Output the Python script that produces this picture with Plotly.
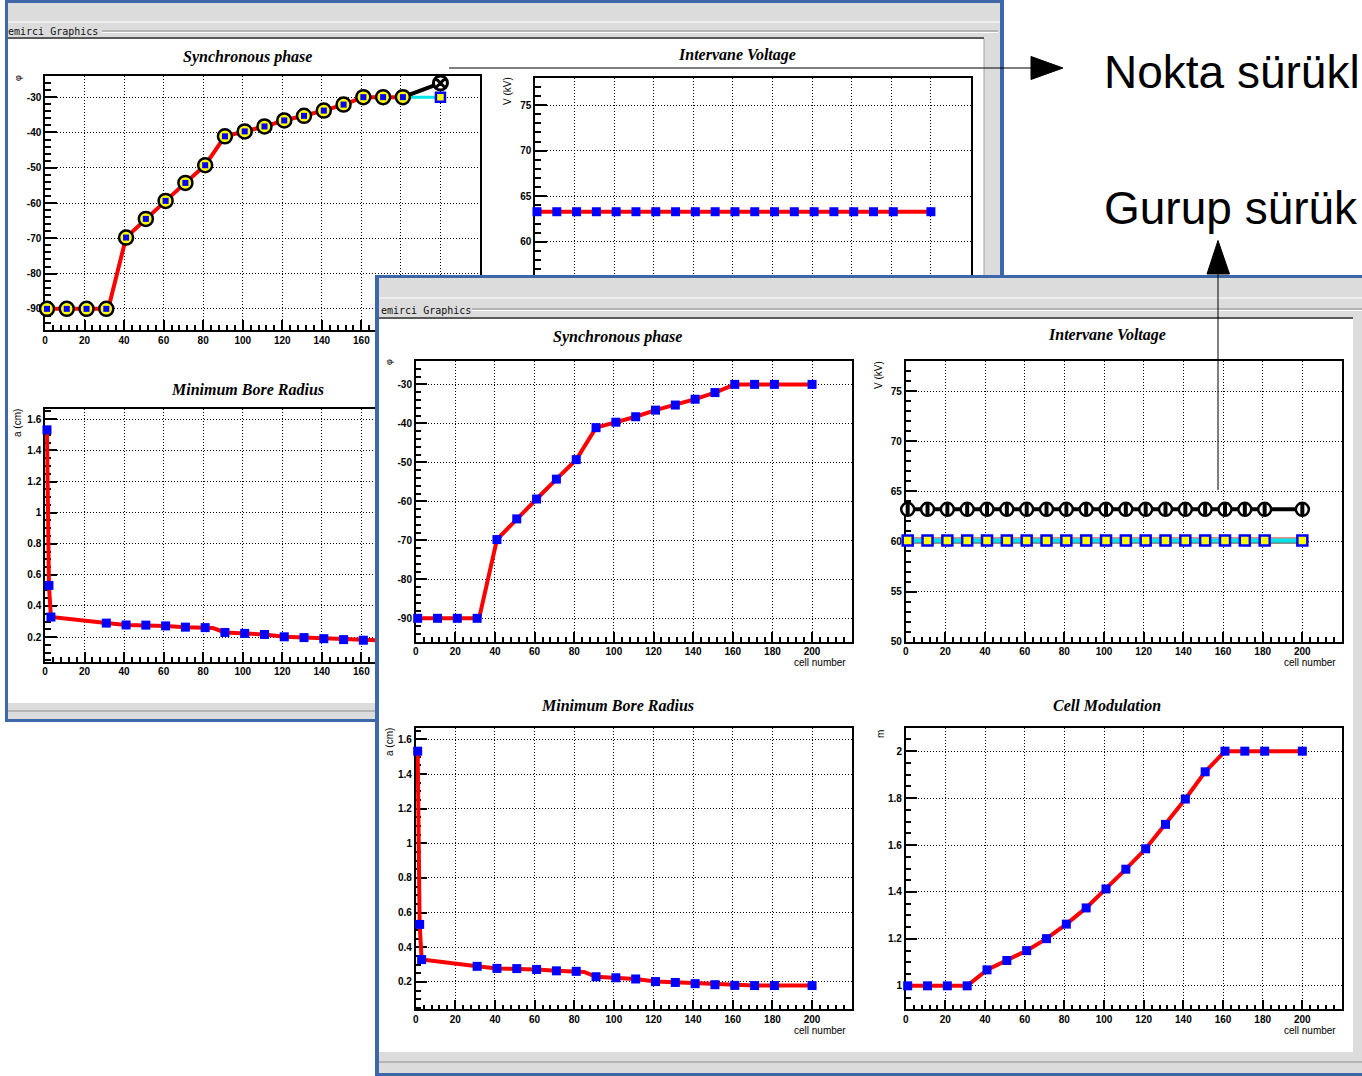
import plotly.graph_objects as go

W, H = 1362, 1076

# ---------------- data ----------------
cells = [1, 11, 21, 31, 41, 51, 61, 71, 81, 91, 101, 111, 121, 131, 141, 151, 161, 171, 181, 200]
phase = [-90, -90, -90, -90, -69.8, -64.5, -59.4, -54.3, -49.3, -41.1, -39.7, -38.3, -36.6, -35.3, -33.8, -32.1, -30, -30, -30, -30]
phase_curve_x = [1, 32, 41, 51, 61, 71, 81, 91, 101, 111, 121, 131, 141, 151, 161, 171, 181, 200]
phase_curve_y = [-90, -90, -69.8, -64.5, -59.4, -54.3, -49.3, -41.1, -39.7, -38.3, -36.6, -35.3, -33.8, -32.1, -30, -30, -30, -30]
# back window: last point being dragged
phase_drag_x = [181, 200]
phase_drag_old = [-30, -30]
phase_drag_new = [-30, -26]

bore_cells = [1, 2, 3, 31, 41, 51, 61, 71, 81, 91, 101, 111, 121, 131, 141, 151, 161, 171, 181, 200]
bore = [1.532, 0.532, 0.329, 0.290, 0.278, 0.277, 0.272, 0.264, 0.261, 0.230, 0.224, 0.217, 0.202, 0.197,
        0.190, 0.184, 0.180, 0.179, 0.179, 0.179]
bore_curve_x = [1, 2, 3, 10, 20, 31, 41, 51, 61, 71, 81, 85, 91, 101, 111, 121, 131, 141, 151, 161, 171, 181, 200]
bore_curve_y = [1.532, 0.532, 0.329, 0.318, 0.303, 0.290, 0.278, 0.277, 0.272, 0.264, 0.261, 0.258, 0.230, 0.224,
                0.217, 0.202, 0.197, 0.190, 0.184, 0.180, 0.179, 0.179, 0.179]

volt_before = [63.3, 63.3, 63.3, 63.3, 63.3, 63.3, 63.3, 63.3, 63.3, 63.3,
               63.3, 63.3, 63.3, 63.3, 63.3, 63.3, 63.3, 63.3, 63.3, 63.3]
volt_ghost = [63.2, 63.2, 63.2, 63.2, 63.2, 63.2, 63.2, 63.2, 63.2, 63.2,
              63.2, 63.2, 63.2, 63.2, 63.2, 63.2, 63.2, 63.2, 63.2, 63.2]
volt_after = [60.1, 60.1, 60.1, 60.1, 60.1, 60.1, 60.1, 60.1, 60.1, 60.1,
              60.1, 60.1, 60.1, 60.1, 60.1, 60.1, 60.1, 60.1, 60.1, 60.1]
volt_after_upper = [60.35, 60.35, 60.35, 60.35, 60.35, 60.35, 60.35, 60.35, 60.35, 60.35,
                    60.35, 60.35, 60.35, 60.35, 60.35, 60.35, 60.35, 60.35, 60.35, 60.35]
volt_after_lower = [59.85, 59.85, 59.85, 59.85, 59.85, 59.85, 59.85, 59.85, 59.85, 59.85,
                    59.85, 59.85, 59.85, 59.85, 59.85, 59.85, 59.85, 59.85, 59.85, 59.85]

modulation = [1.0, 1.0, 1.0, 1.0, 1.068, 1.108, 1.150, 1.201, 1.263, 1.332, 1.413, 1.497, 1.584, 1.688,
              1.796, 1.912, 2.0, 2.0, 2.0, 2.0]

x_ticks = [0, 20, 40, 60, 80, 100, 120, 140, 160, 180, 200]
x_ticklabels = ["0", "20", "40", "60", "80", "100", "120", "140", "160", "180", "200"]
phase_ticks = [-90, -80, -70, -60, -50, -40, -30]
phase_ticklabels = ["-90", "-80", "-70", "-60", "-50", "-40", "-30"]
volt_ticks = [50, 55, 60, 65, 70, 75]
volt_ticklabels = ["50", "55", "60", "65", "70", "75"]
bore_ticks = [0.2, 0.4, 0.6, 0.8, 1.0, 1.2, 1.4, 1.6]
bore_ticklabels = ["0.2", "0.4", "0.6", "0.8", "1", "1.2", "1.4", "1.6"]
mod_ticks = [1.0, 1.2, 1.4, 1.6, 1.8, 2.0]
mod_ticklabels = ["1", "1.2", "1.4", "1.6", "1.8", "2"]

# ---------------- helpers ----------------
def PX(p):
    return p / W


def PY(p):
    return 1 - p / H


FRONT_X0, FRONT_Y0 = 375, 275


def CX(p):
    return (p - FRONT_X0) / (W - FRONT_X0)


def CY(p):
    return (H - p) / (H - FRONT_Y0)


SANS = "Liberation Sans, Arial"
TICKFONT = dict(family=SANS, size=10, color="black", weight="bold")
axis_common = dict(showline=True, linecolor="black", linewidth=1.5, mirror=True,
                   ticks="inside", tickcolor="black", tickwidth=2,
                   showgrid=True, gridcolor="black", gridwidth=1, griddash="1px,2px",
                   zeroline=False, tickfont=TICKFONT, automargin=False, fixedrange=True,
                   layer="below traces")


def xax(x0, x1, anchor, labels=True):
    return dict(axis_common, domain=[PX(x0), PX(x1)], range=[0, 220], anchor=anchor,
                tickmode="array", tickvals=x_ticks, ticktext=x_ticklabels, ticklen=10,
                showticklabels=labels,
                minor=dict(dtick=4, tick0=0, ticks="inside", ticklen=5, tickwidth=2,
                           tickcolor="black", showgrid=False))


def yax(y0, y1, anchor, rng, tv, tt, mdt, mt0):
    return dict(axis_common, domain=[PY(y1), PY(y0)], range=rng, anchor=anchor,
                tickmode="array", tickvals=tv, ticktext=tt, ticklen=12,
                minor=dict(dtick=mdt, tick0=mt0, ticks="inside", ticklen=6, tickwidth=2,
                           tickcolor="black", showgrid=False))


RED = "#ff0000"
BLUE_M = "#0000ff"
fig = go.Figure()


def line_tr(x, y, ax, color=RED, width=4):
    fig.add_trace(go.Scatter(x=x, y=y, mode="lines", xaxis="x" + ax, yaxis="y" + ax,
                             line=dict(color=color, width=width), hoverinfo="skip", showlegend=False))


def mark_tr(x, y, ax, symbol="square", size=9, color=BLUE_M, lcolor=None, lwidth=0):
    fig.add_trace(go.Scatter(x=x, y=y, mode="markers", xaxis="x" + ax, yaxis="y" + ax, cliponaxis=False,
                             marker=dict(symbol=symbol, size=size, color=color,
                                         line=dict(color=lcolor or color, width=lwidth)),
                             hoverinfo="skip", showlegend=False))


# ---- back window (subplots 1..3) ----
line_tr(phase_curve_x[:-1], phase_curve_y[:-1], "")
line_tr(phase_drag_x, phase_drag_old, "", color="#00e5e5", width=3)
line_tr(phase_drag_x, phase_drag_new, "", color="black", width=4)
mark_tr(cells[:-1], phase[:-1], "", symbol="circle", size=14, color="#ffff00", lcolor="black", lwidth=2.5)
mark_tr(cells[:-1], phase[:-1], "", symbol="square", size=6, color=BLUE_M)
mark_tr(cells[-1:], phase[-1:], "", symbol="square", size=9, color="#ffff00", lcolor=BLUE_M, lwidth=2.5)
mark_tr(phase_drag_x[-1:], phase_drag_new[-1:], "", symbol="circle-x", size=14, color="white",
        lcolor="black", lwidth=3)
line_tr(cells, volt_before, "2")
mark_tr(cells, volt_before, "2")
line_tr(bore_curve_x, bore_curve_y, "3")
mark_tr(bore_cells, bore, "3")
# cover subplot for the front window
fig.add_trace(go.Scatter(x=[None], y=[None], xaxis="x4", yaxis="y4", mode="markers",
                         hoverinfo="skip", showlegend=False))
# ---- front window (subplots 5..8) ----
line_tr(phase_curve_x, phase_curve_y, "5")
mark_tr(cells, phase, "5")

line_tr(cells, volt_ghost, "6", color="black", width=4)
mark_tr(cells, volt_ghost, "6", symbol="circle", size=13, color="white", lcolor="black", lwidth=2.5)
mark_tr(cells, volt_ghost, "6", symbol="line-ns", size=9, color="black", lcolor="black", lwidth=4)
line_tr(cells, volt_after_upper, "6", color="#e06060", width=1.5)
line_tr(cells, volt_after_lower, "6", color="black", width=1)
line_tr(cells, volt_after, "6", color="#00e5e5", width=4)
mark_tr(cells, volt_after, "6", symbol="square", size=10, color="#ffff00", lcolor=BLUE_M, lwidth=2.5)

line_tr(bore_curve_x, bore_curve_y, "7")
mark_tr(bore_cells, bore, "7")

line_tr(cells, modulation, "8")
mark_tr(cells, modulation, "8")

# ---------------- axes ----------------
layout = dict(width=W, height=H, margin=dict(l=0, r=0, t=0, b=0), autosize=False,
              paper_bgcolor="white", plot_bgcolor="white", showlegend=False)

layout["xaxis"] = xax(45, 480, "y")
layout["yaxis"] = yax(76, 330, "x", [-96, -24], phase_ticks, phase_ticklabels, 2, 0)
layout["xaxis2"] = xax(535, 970.5, "y2", labels=False)
layout["yaxis2"] = yax(77.7, 333, "x2", [50, 78], volt_ticks, volt_ticklabels, 1, 0)
layout["xaxis3"] = xax(45, 480, "y3")
layout["yaxis3"] = yax(409.3, 661.7, "x3", [0.042, 1.664], bore_ticks, bore_ticklabels, 0.05, 0)
hidden = dict(showline=False, showgrid=False, zeroline=False, showticklabels=False, ticks="",
              range=[0, 1], fixedrange=True, automargin=False)
layout["xaxis4"] = dict(hidden, domain=[PX(FRONT_X0), 1], anchor="y4")
layout["yaxis4"] = dict(hidden, domain=[0, PY(FRONT_Y0)], anchor="x4")
layout["xaxis5"] = xax(415.7, 851.7, "y5")
layout["yaxis5"] = yax(361, 641.7, "x5", [-96, -24], phase_ticks, phase_ticklabels, 2, 0)
layout["xaxis6"] = xax(905.7, 1342, "y6")
layout["yaxis6"] = yax(361, 641.7, "x6", [50, 78], volt_ticks, volt_ticklabels, 1, 0)
layout["xaxis7"] = xax(415.7, 851.7, "y7")
layout["yaxis7"] = yax(728.3, 1009.3, "x7", [0.042, 1.664], bore_ticks, bore_ticklabels, 0.05, 0)
layout["xaxis8"] = xax(905.7, 1342, "y8")
layout["yaxis8"] = yax(727.7, 1009.3, "x8", [0.9, 2.1], mod_ticks, mod_ticklabels, 0.05, 0)

# ---------------- window chrome ----------------
BLUE = "#3d67a8"
GRAY = "#dcdcdc"
shapes = []


def prect(x0, y0, x1, y1, fill):
    shapes.append(dict(type="rect", xref="paper", yref="paper", x0=PX(x0), x1=PX(x1), y0=PY(y1), y1=PY(y0),
                       fillcolor=fill, line=dict(width=0), layer="below"))


def pline(x0, y0, x1, y1, color, width=1, layer="below"):
    shapes.append(dict(type="line", xref="paper", yref="paper", x0=PX(x0), x1=PX(x1), y0=PY(y0), y1=PY(y1),
                       line=dict(color=color, width=width), layer=layer))


def crect(x0, y0, x1, y1, fill):
    shapes.append(dict(type="rect", xref="x4", yref="y4", x0=CX(x0), x1=CX(x1), y0=CY(y1), y1=CY(y0),
                       fillcolor=fill, line=dict(width=0), layer="below"))


def cline(x0, y0, x1, y1, color, width=1):
    shapes.append(dict(type="line", xref="x4", yref="y4", x0=CX(x0), x1=CX(x1), y0=CY(y0), y1=CY(y1),
                       line=dict(color=color, width=width), layer="below"))


# back window
prect(5, 0, 1004, 722, BLUE)
prect(8, 3, 1000, 719, GRAY)
pline(8, 22, 1000, 22, "white", 1)
prect(8, 39, 984, 703, "white")
pline(8, 38, 984, 38, "#5a5a5a", 2)
pline(984, 39, 984, 703, "#a0a0a0", 1)
pline(102, 31, 998, 31, "#8c8c8c", 1)
pline(102, 32.5, 998, 32.5, "white", 1)
pline(8, 711, 1000, 711, "#8c8c8c", 1)

# front window (drawn inside the cover subplot so it hides the back plots)
crect(375, 275, 1362, 1076, BLUE)
crect(379, 278, 1362, 1073, GRAY)
cline(379, 298, 1362, 298, "white", 1)
crect(379, 319, 1353, 1052, "white")
cline(379, 318, 1353, 318, "#5a5a5a", 2)
cline(472, 309, 1362, 309, "#8c8c8c", 1)
cline(472, 310.5, 1362, 310.5, "white", 1)
cline(379, 1062, 1362, 1062, "#8c8c8c", 1)

# arrows
pline(449, 68, 1031, 68, "black", 1, layer="above")
pline(1218, 490, 1218, 273, "black", 1, layer="above")


def tri(pts):
    path = "M " + " L ".join(f"{PX(a):.6f},{PY(b):.6f}" for a, b in pts) + " Z"
    shapes.append(dict(type="path", xref="paper", yref="paper", path=path, fillcolor="black",
                       line=dict(color="black", width=1), layer="above"))


tri([(1031, 56.5), (1063, 68), (1031, 79.5)])
tri([(1207, 274), (1218, 240.5), (1229.5, 274)])
layout["shapes"] = shapes

# ---------------- texts ----------------
ann = []


def text(x, y, s, size=10, family=SANS, xanchor="center", angle=0,
         weight="normal", style="normal", color="black"):
    ann.append(dict(x=PX(x), y=PY(y), xref="paper", yref="paper", text=s, showarrow=False,
                    xanchor=xanchor, yanchor="middle", textangle=angle,
                    font=dict(family=family, size=size, color=color, weight=weight, style=style)))


TITLE = dict(size=16, family="Liberation Serif, Times New Roman", weight="bold", style="italic")
MONO = dict(size=10, family="DejaVu Sans Mono, monospace", color="#111111")
SMALL = dict(size=10)

text(6, 32, "emirci Graphics", xanchor="left", **MONO)
text(247, 57, "Synchronous phase", **TITLE)
text(737, 55, "Intervane Voltage", **TITLE)
text(247, 389, "Minimum Bore Radius", **TITLE)
text(18, 78, "φ", size=9, angle=-90)
text(508, 91, "V (kV)", angle=-90, **SMALL)
text(18, 423, "a (cm)", angle=-90, **SMALL)

text(379, 310, "emirci Graphics", xanchor="left", **MONO)
text(617, 337, "Synchronous phase", **TITLE)
text(1107, 335, "Intervane Voltage", **TITLE)
text(617, 705, "Minimum Bore Radius", **TITLE)
text(1107, 705, "Cell Modulation", **TITLE)
text(389, 362, "φ", size=9, angle=-90)
text(878, 375, "V (kV)", angle=-90, **SMALL)
text(389, 742, "a (cm)", angle=-90, **SMALL)
text(880, 734, "m", angle=-90, **SMALL)
text(848, 662, "cell number", xanchor="right", **SMALL)
text(1338, 662, "cell number", xanchor="right", **SMALL)
text(848, 1030, "cell number", xanchor="right", **SMALL)
text(1338, 1030, "cell number", xanchor="right", **SMALL)

text(1101.5, 72, "Nokta sürükl", size=46, xanchor="left")
text(1101.5, 208, "Gurup sürük", size=46, xanchor="left")
layout["annotations"] = ann

fig.update_layout(**layout)
fig.write_html("out.html", include_plotlyjs=True, full_html=True,
               config={"displayModeBar": False},
               post_script="document.body.style.margin='0';document.body.style.overflow='hidden';")
